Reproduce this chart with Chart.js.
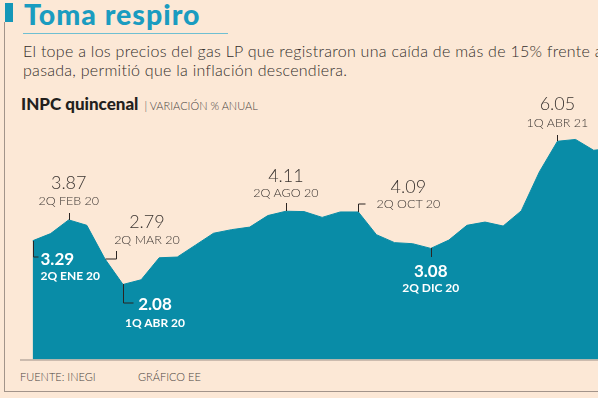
<!DOCTYPE html>
<html lang="es">
<head>
<meta charset="utf-8">
<title>Toma respiro</title>
<script src="https://cdn.jsdelivr.net/npm/chart.js@4.4.1/dist/chart.umd.min.js"></script>
<style>
  html, body { margin: 0; padding: 0; }
  body {
    width: 598px; height: 398px; overflow: hidden; position: relative;
    background: #fce8d6; font-family: 'Lato', sans-serif; color: #3b3633;
  }
  #chart { position: absolute; left: 0; top: 0; }
  .frame-left { position: absolute; left: 4px; top: 22px; width: 1px; height: 370px; background: #a2948a; }
  .frame-bottom { position: absolute; left: 4px; top: 391px; width: 594px; height: 1px; background: #a2948a; }
  .title-bar { position: absolute; left: 5px; top: 3px; width: 8px; height: 19px; background: #1597b8; }
  .title {
    position: absolute; left: 24px; top: -3px; font-size: 28.5px; font-weight: 900;
    color: #1a9cc0; letter-spacing: 1px; white-space: nowrap;
  }
  .title-rule { position: absolute; left: 23px; top: 33px; width: 205px; height: 1px; background: #6fbfd2; }
  .subtitle {
    position: absolute; left: 23px; top: 41px; font-size: 16px; font-weight: 300;
    letter-spacing: 0.28px; line-height: 19px; white-space: nowrap; color: #332e2b;
  }
  .head {
    position: absolute; left: 21px; top: 93px; white-space: nowrap;
    font-size: 17px; font-weight: 900; color: #231f1d;
  }
  .head span { font-size: 11px; font-weight: 300; color: #4a4441; margin-left: 2px; }
  .foot { position: absolute; top: 370px; font-size: 11px; font-weight: 300; color: #4a4441; white-space: nowrap; }
  .ann { position: absolute; white-space: nowrap; line-height: 1; }
  .ann.out { color: #3a3431; font-weight: 300; }
  .ann.in { color: #ffffff; font-weight: 700; }
</style>
</head>
<body>

<div class="frame-left"></div>
<div class="frame-bottom"></div>
<div class="title-bar"></div>
<div class="title">Toma respiro</div>
<div class="title-rule"></div>
<div class="subtitle">El tope a los precios del gas LP que registraron una caída de más de 15% frente a<br>pasada, permitió que la inflación descendiera.</div>
<div class="head">INPC quincenal <span>| VARIACIÓN % ANUAL</span></div>
<div class="foot" style="left:20px">FUENTE: INEGI</div>
<div class="foot" style="left:138px">GRÁFICO EE</div>

<canvas id="chart" width="598" height="398"></canvas>

<script>
/* ─────────────────────────────────────────
   DATA: INPC quincenal, variación % anual
───────────────────────────────────────── */
const periods = [
  '2Q ENE 20', '1Q FEB 20', '2Q FEB 20', '1Q MAR 20', '2Q MAR 20', '1Q ABR 20',
  '2Q ABR 20', '1Q MAY 20', '2Q MAY 20', '1Q JUN 20', '2Q JUN 20', '1Q JUL 20',
  '2Q JUL 20', '1Q AGO 20', '2Q AGO 20', '1Q SEP 20', '2Q SEP 20', '1Q OCT 20',
  '2Q OCT 20', '1Q NOV 20', '2Q NOV 20', '1Q DIC 20', '2Q DIC 20', '1Q ENE 21',
  '2Q ENE 21', '1Q FEB 21', '2Q FEB 21', '1Q MAR 21', '2Q MAR 21', '1Q ABR 21',
  '2Q ABR 21', '1Q MAY 21', '2Q MAY 21'
];
const inflation = [
  3.29, 3.49, 3.87, 3.72, 2.79, 2.08,
  2.21, 2.82, 2.84, 3.17, 3.50, 3.60,
  3.67, 3.99, 4.11, 4.10, 3.94, 4.09,
  4.09, 3.46, 3.24, 3.21, 3.08, 3.31,
  3.72, 3.81, 3.70, 4.12, 5.20, 6.05,
  6.10, 5.80, 5.85
];
// highlighted periods (labels on the chart)
const highlighted = ['2Q ENE 20', '2Q FEB 20', '2Q MAR 20', '1Q ABR 20', '2Q AGO 20', '2Q OCT 20', '2Q DIC 20', '1Q ABR 21'];

/* ─────────────────────────────────────────
   Label placement (offsets from the point)
───────────────────────────────────────── */
const labelStyle = {
  '2Q ENE 20': { kind: 'in',  align: 'left', dx: 8,  dyNum: 17,  dyLbl: 35, leader: [[0, 0], [0, 16], [5, 16]] },
  '2Q FEB 20': { kind: 'out', dx: 0,  dyNum: -38, dyLbl: -19, leader: [[0, 0], [0, -7]] },
  '2Q MAR 20': { kind: 'out', dx: 42, dyNum: -38, dyLbl: -19, leader: [[0, 0], [11, 0], [11, -8]] },
  '1Q ABR 20': { kind: 'in',  dx: 32, dyNum: 19,  dyLbl: 39, leader: [[0, 0], [0, 19], [10, 19]] },
  '2Q AGO 20': { kind: 'out', dx: 0,  dyNum: -36, dyLbl: -18, leader: [[0, 0], [0, -8]] },
  '2Q OCT 20': { kind: 'out', dx: 50, dyNum: -26, dyLbl: -8,  leader: [[0, 0], [0, -8], [7, -8]] },
  '2Q DIC 20': { kind: 'in',  dx: 0,  dyNum: 22,  dyLbl: 40, leader: [[0, 0], [0, 9]] },
  '1Q ABR 21': { kind: 'out', dx: 0,  dyNum: -38, dyLbl: -18, leader: [[0, 0], [0, -6]] }
};

const teal = '#098ca7';

/* ─────────────────────────────────────────
   Plugin: baseline, leaders and labels
───────────────────────────────────────── */
const annotatePlugin = {
  id: 'annotate',
  beforeDatasetsDraw(chart) {
    const { ctx, chartArea, scales } = chart;
    const y0 = scales.y.getPixelForValue(0);
    ctx.save();
    ctx.strokeStyle = '#9b8e86';
    ctx.lineWidth = 1;
    ctx.beginPath();
    ctx.moveTo(20, y0 + 0.5);
    ctx.lineTo(chartArea.right, y0 + 0.5);
    ctx.stroke();
    ctx.restore();
  },
  afterDatasetsDraw(chart) {
    const { ctx, scales } = chart;
    ctx.save();
    ctx.strokeStyle = '#2b2523';
    ctx.lineWidth = 1;
    highlighted.forEach((p) => {
      const i = periods.indexOf(p);
      const px = Math.round(scales.x.getPixelForValue(i)) + 0.5;
      const py = Math.round(scales.y.getPixelForValue(inflation[i]));
      const path = labelStyle[p].leader;
      ctx.beginPath();
      path.forEach(([dx, dy], k) => {
        if (k === 0) ctx.moveTo(px + dx, py + dy);
        else ctx.lineTo(px + dx, py + dy);
      });
      ctx.stroke();
    });
    ctx.restore();
  },
  afterRender(chart) {
    if (chart._labelsDone) return;
    chart._labelsDone = true;
    const { scales } = chart;
    highlighted.forEach((p) => {
      const i = periods.indexOf(p);
      const s = labelStyle[p];
      const px = scales.x.getPixelForValue(i);
      const py = scales.y.getPixelForValue(inflation[i]);
      const tx = s.align === 'left' ? '0' : '-50%';
      const num = document.createElement('div');
      num.className = 'ann ' + s.kind;
      num.textContent = inflation[i].toFixed(2);
      num.style.fontSize = s.kind === 'in' ? '17px' : '18px';
      num.style.left = (px + s.dx) + 'px';
      num.style.top = (py + s.dyNum) + 'px';
      num.style.transform = `translate(${tx}, -50%)`;
      const lbl = document.createElement('div');
      lbl.className = 'ann ' + s.kind;
      lbl.textContent = p;
      lbl.style.fontSize = s.kind === 'in' ? '12px' : '12.5px';
      lbl.style.left = (px + s.dx) + 'px';
      lbl.style.top = (py + s.dyLbl) + 'px';
      lbl.style.transform = `translate(${tx}, -50%)`;
      document.body.appendChild(num);
      document.body.appendChild(lbl);
    });
  }
};

/* ═══════════════════════════════════════════
   CHART.JS – AREA CHART
═══════════════════════════════════════════ */
const ctx = document.getElementById('chart').getContext('2d');

new Chart(ctx, {
  type: 'line',
  data: {
    datasets: [{
      label: 'INPC',
      data: inflation.map((v, i) => ({ x: i, y: v })),
      fill: 'origin',
      backgroundColor: teal,
      borderColor: teal,
      borderWidth: 1,
      tension: 0,
      pointRadius: 0
    }]
  },
  options: {
    responsive: false,
    animation: false,
    events: [],
    layout: { padding: { left: 32.5, right: 0, top: 107, bottom: 38.5 } },
    plugins: { legend: { display: false }, tooltip: { enabled: false } },
    scales: {
      x: { type: 'linear', display: false, min: 0, max: 31.24 },
      y: { display: false, min: 0, max: 7 }
    }
  },
  plugins: [annotatePlugin]
});
</script>
</body>
</html>
